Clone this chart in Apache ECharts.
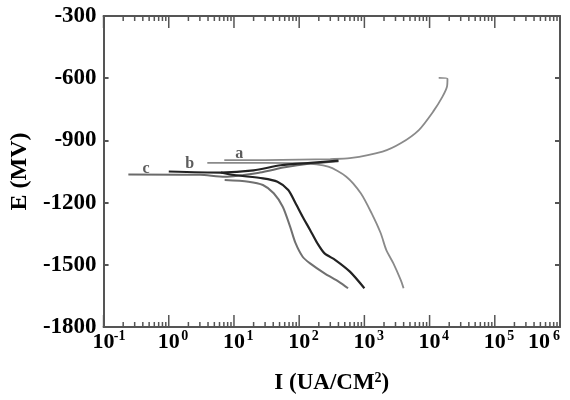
<!DOCTYPE html>
<html lang="en">
<head>
    <meta charset="utf-8">
    <style>
        html, body { margin: 0; padding: 0; background: #fff; }
        #chart { width: 570px; height: 400px; }
    </style>
</head>
<body>
<div id="chart"></div>
<script src="https://cdn.jsdelivr.net/npm/echarts@6.0.0/dist/echarts.min.js"></script>
<script type="text/javascript">

// curve a (grey), anodic and cathodic branches
var aAnodicI = [7.1, 30, 100, 300, 597, 1897, 3603, 6842, 11400, 15700, 18500, 18800, 13800];
var aAnodicE = [-995, -995, -993, -990, -986, -954, -914, -850, -760, -690, -640, -603, -598];
var aCathI = [3.9, 30, 100, 279, 528, 881, 1294, 1782, 2163, 2786, 3603, 3990];
var aCathE = [-1008, -1008, -1010, -1027, -1075, -1155, -1252, -1348, -1428, -1493, -1573, -1613];

// curve b (black)
var bAnodicI = [1.0, 6.3, 20, 52, 150, 400];
var bAnodicE = [-1050, -1055, -1045, -1020, -1008, -998];
var bCathI = [6.3, 10, 27.8, 46.4, 68, 88, 113, 147, 190, 245, 359, 600, 1000];
var bCathE = [-1055, -1067, -1083, -1099, -1139, -1203, -1268, -1332, -1396, -1445, -1477, -1533, -1613];

// curve c (dark grey)
var cAnodicI = [0.24, 3, 7.2, 25, 60, 150, 400];
var cAnodicE = [-1064, -1066, -1075, -1055, -1030, -1012, -1000];
var cCathI = [7.2, 16.7, 27.8, 40.7, 56, 72.6, 88, 113, 147, 245, 408, 562];
var cCathE = [-1091, -1099, -1115, -1155, -1220, -1316, -1396, -1461, -1493, -1541, -1582, -1613];

// curve labels
var curveNames = ['a', 'b', 'c'];
var labelI = [12, 2.1, 0.45];
var labelE = [-966, -1014, -1038];

// axes
var xMin = 0.1, xMax = 1e6;
var yMin = -1800, yMax = -300, yStep = 300;

function zip(xs, ys) {
    return xs.map(function (x, i) { return [x, ys[i]]; });
}

// tick marks of the log axis: decades long, 2..9 short
var tickData = [];
for (var d = -1; d <= 6; d++) {
    tickData.push([Math.pow(10, d), yMin, 12]);
    if (d < 6) {
        for (var m = 2; m <= 9; m++) {
            tickData.push([m * Math.pow(10, d), yMin, 5]);
        }
    }
}

var serif = '"Liberation Serif", "Times New Roman", serif';
var axisColor = '#555';

var chart = echarts.init(document.getElementById('chart'));

var lineBase = { type: 'line', showSymbol: false, symbol: 'none', smooth: 0.25 };

var option = {
    animation: false,
    grid: { left: 102, right: 10, top: 16, bottom: 73 },
    xAxis: [
        {
            type: 'log', min: xMin, max: xMax, position: 'bottom',
            axisLine: { onZero: false, lineStyle: { color: axisColor, width: 2 } },
            axisTick: { show: false },
            axisLabel: {
                margin: 2,
                alignMaxLabel: 'right',
                formatter: function (v) {
                    var e = Math.round(Math.log10(v));
                    if (v >= xMax) return '{b|10}{s|' + e + '}';
                    return '{p|}{b|10}{s|' + e + '}';
                },
                rich: {
                    p: { width: 10 },
                    b: { fontFamily: serif, fontWeight: 'bold', fontSize: 22, color: '#000' },
                    s: { fontFamily: serif, fontWeight: 'bold', fontSize: 14, color: '#000', width: 10, padding: [0, 0, 12, 0] }
                }
            },
            splitLine: { show: false },
            name: '{n|I (UA/CM}{s|2}{n|)}',
            nameLocation: 'middle',
            nameGap: 44,
            nameTextStyle: {
                rich: {
                    n: { fontFamily: serif, fontWeight: 'bold', fontSize: 23, color: '#000' },
                    s: { fontFamily: serif, fontWeight: 'bold', fontSize: 14, color: '#000', padding: [0, 0, 10, 0] }
                }
            }
        },
        {
            type: 'log', min: xMin, max: xMax, position: 'top',
            axisLine: { onZero: false, lineStyle: { color: axisColor, width: 2 } },
            axisTick: { show: false },
            axisLabel: { show: false },
            splitLine: { show: false }
        }
    ],
    yAxis: [
        {
            type: 'value', min: yMin, max: yMax, interval: yStep, position: 'left',
            axisLine: { show: true, onZero: false, lineStyle: { color: axisColor, width: 2 } },
            axisTick: { show: true, inside: true, length: 5, lineStyle: { color: axisColor, width: 2 } },
            axisLabel: {
                fontFamily: serif, fontWeight: 'bold', fontSize: 23, color: '#000', margin: 7,
                formatter: function (v) { return String(v); }
            },
            splitLine: { show: false },
            name: 'E (MV)',
            nameLocation: 'middle',
            nameGap: 70,
            nameTextStyle: { fontFamily: serif, fontWeight: 'bold', fontSize: 24, color: '#000' }
        },
        {
            type: 'value', min: yMin, max: yMax, interval: yStep, position: 'right',
            axisLine: { show: true, onZero: false, lineStyle: { color: axisColor, width: 2 } },
            axisTick: { show: true, inside: true, length: 5, lineStyle: { color: axisColor, width: 2 } },
            axisLabel: { show: false },
            splitLine: { show: false }
        }
    ],
    series: [
        Object.assign({}, lineBase, { data: zip(aAnodicI, aAnodicE), lineStyle: { color: '#8a8a8a', width: 1.8 } }),
        Object.assign({}, lineBase, { data: zip(aCathI, aCathE), lineStyle: { color: '#8a8a8a', width: 1.8 } }),
        Object.assign({}, lineBase, { data: zip(cAnodicI, cAnodicE), lineStyle: { color: '#6a6a6a', width: 2 } }),
        Object.assign({}, lineBase, { data: zip(cCathI, cCathE), lineStyle: { color: '#707070', width: 2 } }),
        Object.assign({}, lineBase, { data: zip(bAnodicI, bAnodicE), lineStyle: { color: '#222', width: 2.2 } }),
        Object.assign({}, lineBase, { data: zip(bCathI, bCathE), lineStyle: { color: '#222', width: 2.2 } }),
        {
            type: 'scatter', symbolSize: 0,
            data: curveNames.map(function (n, i) { return { name: n, value: [labelI[i], labelE[i]] }; }),
            label: {
                show: true, position: 'inside', formatter: '{b}',
                fontFamily: serif, fontWeight: 'bold', fontSize: 16, color: '#333'
            }
        },
        {
            // tick marks on the bottom and top frame, placed through the log scale
            type: 'custom', silent: true, z: 5,
            data: tickData,
            renderItem: function (params, api) {
                var v = api.value(0), len = api.value(2);
                var b = api.coord([v, yMin]);
                var t = api.coord([v, yMax]);
                var st = { stroke: axisColor, lineWidth: 1.5 };
                return {
                    type: 'group',
                    children: [
                        { type: 'line', shape: { x1: b[0], y1: b[1], x2: b[0], y2: b[1] - len }, style: st },
                        { type: 'line', shape: { x1: t[0], y1: t[1], x2: t[0], y2: t[1] + len }, style: st }
                    ]
                };
            }
        }
    ]
};

chart.setOption(option);

</script>
</body>
</html>
